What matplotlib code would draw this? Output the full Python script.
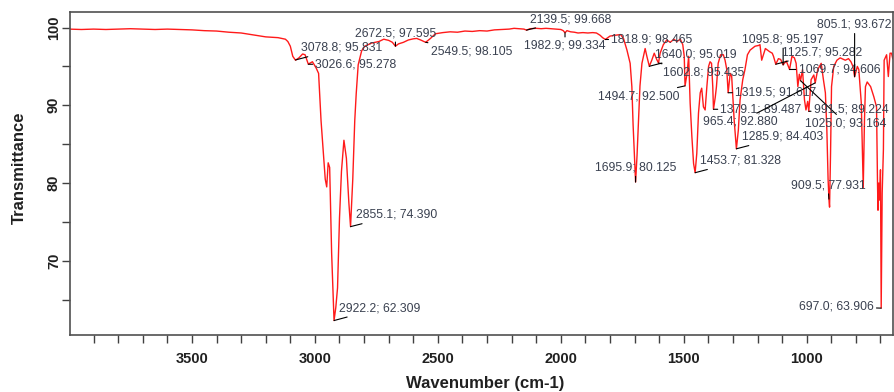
import matplotlib
matplotlib.use("Agg")
import matplotlib.pyplot as plt
from matplotlib.ticker import MultipleLocator

# ---- spectrum data (wavenumber cm-1, transmittance %) ----
wavenumber = [
    4000, 3950, 3900, 3850, 3800, 3750, 3700, 3650, 3600, 3550, 3500, 3450, 3400, 3350,
    3300, 3250, 3200, 3150, 3120, 3110, 3100, 3090, 3079, 3065, 3050, 3040, 3027, 3010,
    2995, 2985, 2975, 2965, 2958, 2952, 2946, 2940, 2932, 2926, 2922.2, 2915, 2908, 2900,
    2892, 2882, 2872, 2862, 2855.1, 2846, 2838, 2832, 2824, 2810, 2797, 2770, 2740, 2720,
    2700, 2685, 2672.5, 2660, 2640, 2620, 2600, 2586, 2570, 2549.5, 2530, 2510, 2480, 2450,
    2420, 2390, 2360, 2330, 2300, 2270, 2240, 2210, 2190, 2170, 2150, 2139.5, 2125, 2100,
    2080, 2060, 2040, 2020, 2000, 1990, 1982.9, 1975, 1960, 1945, 1930, 1910, 1890, 1870,
    1855, 1840, 1830, 1818.9, 1800, 1780, 1757, 1745, 1731, 1718, 1711, 1706, 1700, 1695.9,
    1690, 1684, 1678, 1670, 1657, 1650, 1640, 1630, 1620, 1610, 1602.8, 1596, 1583, 1569,
    1555, 1540, 1528, 1514, 1504, 1498, 1494.7, 1487, 1480, 1474, 1467, 1460, 1453.7, 1447,
    1440, 1433, 1427, 1420, 1413, 1406, 1399, 1393, 1387, 1382, 1379.1, 1372, 1367, 1360,
    1350, 1339, 1332, 1325, 1319.5, 1311, 1305, 1295, 1285.9, 1278, 1271, 1260, 1251, 1241,
    1230, 1210, 1195, 1190, 1183, 1176, 1168, 1151, 1140, 1135, 1125.7, 1115, 1106, 1095.8,
    1083, 1069.7, 1060, 1050, 1043, 1036, 1030, 1025, 1017, 1009, 1003, 996, 991.5, 982,
    971, 965.4, 955, 948, 941, 932, 924, 918, 913, 909.5, 907, 903, 899, 890, 877, 864, 850,
    843, 830, 820, 812, 805.1, 794, 788, 782, 778, 774, 770, 767, 765, 761, 754, 740, 727,
    716, 712, 710, 707, 703, 700, 697, 693, 688, 685, 675, 668, 661, 655, 650,
]
transmittance = [
    99.80, 99.75, 99.80, 99.75, 99.80, 99.85, 99.80, 99.75, 99.80, 99.75, 99.70, 99.60, 99.55, 99.40,
    99.30, 99.05, 98.80, 98.70, 98.50, 98.20, 97.60, 96.30, 95.80, 96.10, 96.60, 96.50, 95.30, 95.60,
    94.80, 94.10, 88.00, 83.50, 80.50, 79.50, 82.60, 82.00, 71.00, 65.50, 62.31, 64.00, 66.50, 75.50,
    81.50, 85.50, 83.20, 77.50, 74.39, 80.50, 88.00, 91.50, 95.20, 97.00, 97.60, 98.00, 98.20, 98.50,
    98.35, 98.10, 97.60, 97.90, 98.10, 98.40, 98.55, 98.60, 98.40, 98.10, 98.60, 99.20, 99.35, 99.45,
    99.40, 99.55, 99.50, 99.60, 99.55, 99.70, 99.75, 99.80, 99.90, 99.85, 99.80, 99.67, 99.85, 99.90,
    99.85, 99.90, 99.85, 99.80, 99.75, 99.60, 99.33, 99.60, 99.45, 99.40, 99.30, 99.35, 99.30, 99.35,
    99.30, 99.00, 98.70, 98.47, 98.90, 99.00, 99.10, 98.60, 97.10, 95.40, 92.40, 87.50, 83.00, 80.13,
    83.50, 88.00, 92.50, 95.40, 97.30, 96.30, 95.02, 95.80, 96.70, 95.90, 95.44, 96.70, 97.80, 98.40,
    98.10, 98.50, 98.20, 98.50, 97.80, 96.30, 92.50, 94.00, 96.30, 90.30, 86.00, 82.50, 81.33, 83.80,
    89.00, 91.60, 92.20, 89.80, 89.40, 92.40, 95.00, 95.60, 95.40, 92.40, 89.49, 91.00, 92.40, 95.40,
    96.50, 96.50, 95.80, 94.60, 91.62, 94.10, 93.70, 88.10, 84.40, 86.80, 90.70, 93.30, 94.60, 96.50,
    97.10, 97.60, 97.70, 97.80, 95.80, 96.50, 97.30, 96.90, 96.70, 96.30, 95.28, 96.00, 95.90, 95.20,
    95.70, 94.61, 96.30, 96.10, 95.40, 92.40, 94.00, 93.16, 94.60, 90.70, 89.40, 90.50, 89.22, 93.30,
    93.90, 92.88, 94.60, 95.00, 95.40, 93.30, 91.60, 86.80, 80.50, 77.93, 76.90, 83.80, 92.40, 95.00, 95.80, 96.10, 95.90,
    95.80, 96.00, 95.60, 95.00, 93.67, 95.00, 94.60, 92.00, 90.30, 84.70, 79.40, 85.00, 88.10, 92.40, 93.00, 92.40, 91.10,
    89.80, 80.00, 76.50, 80.00, 77.80, 81.70, 63.91, 78.70, 84.30, 95.80, 96.50, 93.70, 96.70, 96.70, 96.00,
]

# ---- peak labels ----
peak_wavenumber = [3078.8, 3026.6, 2672.5, 2549.5, 2139.5, 1982.9, 1818.9, 1640.0, 1602.8,
                   1494.7, 1695.9, 1453.7, 1319.5, 1379.1, 965.4, 1285.9, 1095.8, 1125.7,
                   1069.7, 1025.0, 991.5, 909.5, 805.1, 697.0, 2855.1, 2922.2]
peak_transmittance = [95.831, 95.278, 97.595, 98.105, 99.668, 99.334, 98.465, 95.019, 95.435,
                      92.500, 80.125, 81.328, 91.617, 89.487, 92.880, 84.403, 95.197, 95.282,
                      94.606, 93.164, 89.224, 77.931, 93.672, 63.906, 74.390, 62.309]

# layout of labels: (dx px, dy px, horizontal alignment)
label_layout = [(5, 12, 'left'), (7, 0, 'left'), (0, 13, 'center'), (5, -9, 'left'),
                (4, 11, 'left'), (0, -13, 'center'), (6, 0, 'left'), (6, 12, 'left'),
                (5, -9.5, 'left'), (-5.5, -10.5, 'right'), (0, 14.5, 'center'), (5, 12, 'left'),
                (7, 0, 'left'), (7, 0, 'left'), (-38, -39, 'right'), (5.5, 12, 'left'),
                (0, 25.5, 'center'), (6, 12, 'left'), (9, 0, 'left'), (4.5, -42.5, 'left'),
                (5, 1.4, 'left'), (-1, 14, 'center'), (0, 52, 'center'), (-7.5, 1.4, 'right'),
                (5.5, 11.7, 'left'), (5, 12.3, 'left')]

x_ticks = [3500, 3000, 2500, 2000, 1500, 1000]
y_ticks = [70, 80, 90, 100]

fig = plt.figure(figsize=(8.94, 3.92), dpi=100)
ax = fig.add_axes([70 / 894, 57 / 392, 823 / 894, 323 / 392])

ax.plot(wavenumber, transmittance, color='#ff1a1a', lw=1.0)

for w, t, (dx, dy, ha) in zip(peak_wavenumber, peak_transmittance, label_layout):
    ax.annotate(f"{w:.1f}; {t:.3f}", xy=(w, t), xytext=(dx, dy), textcoords='offset pixels',
                ha=ha, va='center', fontsize=8.8, family='Liberation Sans', color='#3a4150',
                arrowprops=dict(arrowstyle='-', color='black', lw=0.8, shrinkA=0, shrinkB=0))

ax.set_xlim(3996, 649)
ax.set_ylim(60.45, 102.0)
ax.set_xticks(x_ticks)
ax.set_yticks(y_ticks)
ax.xaxis.set_minor_locator(MultipleLocator(100))
ax.yaxis.set_minor_locator(MultipleLocator(5))

for sp in ax.spines.values():
    sp.set_color('#505050')
    sp.set_linewidth(1.2)

ax.tick_params(which='both', direction='out', length=6, width=1.0, color='#404040')
ax.tick_params(axis='x', pad=6, labelsize=10.5)
ax.tick_params(axis='y', pad=0.5, labelsize=10.5, labelrotation=90)
for lbl in ax.get_xticklabels() + ax.get_yticklabels():
    lbl.set_fontweight('bold')
    lbl.set_family('Liberation Sans')
    lbl.set_color('#202020')
for lbl in ax.get_yticklabels():
    lbl.set_va('center')

ax.set_xlabel('Wavenumber (cm-1)', fontsize=12, fontweight='bold', family='Liberation Sans',
              color='#202020')
ax.set_ylabel('Transmittance', fontsize=12, fontweight='bold', family='Liberation Sans',
              color='#202020')
ax.xaxis.set_label_coords(0.505, -0.149)
ax.xaxis.label.set_va('center')
ax.yaxis.set_label_coords(-0.061, 0.517)
ax.yaxis.label.set_va('center')

fig.savefig('out.png', dpi=100)
